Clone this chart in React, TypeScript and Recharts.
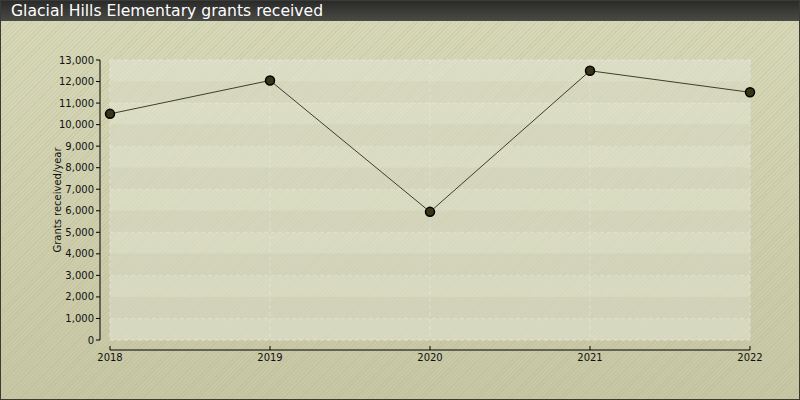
import React from 'react';
import {
  LineChart,
  Line,
  XAxis,
  YAxis,
  CartesianGrid,
  ReferenceArea,
} from 'recharts';

const years = [2018, 2019, 2020, 2021, 2022];
const grants = [10500, 12050, 5950, 12500, 11500];
const yTicks = [0, 1000, 2000, 3000, 4000, 5000, 6000, 7000, 8000, 9000, 10000, 11000, 12000, 13000];

const data = years.map((year, i) => ({ year, grants: grants[i] }));

// alternating horizontal bands, one per 1000
const bands = yTicks.slice(0, -1).map((lo, i) => ({ lo, hi: yTicks[i + 1], light: i % 2 === 0 }));

const fmt = (v: number) => v.toLocaleString('en-US');

const font = '"DejaVu Sans", Verdana, sans-serif';

export default function App() {
  return (
    <div
      style={{
        position: 'absolute',
        left: 0,
        top: 0,
        width: 800,
        height: 400,
        boxSizing: 'border-box',
        border: '1px solid #3a3a36',
        background:
          'repeating-linear-gradient(135deg, rgba(170,172,100,0.2) 0px, rgba(170,172,100,0.2) 1px, rgba(0,0,0,0) 1px, rgba(0,0,0,0) 3px), linear-gradient(#d8d9bb, #c7c7a7)',
        overflow: 'hidden',
        fontFamily: font,
      }}
    >
      <div
        style={{
          position: 'absolute',
          left: 0,
          top: 0,
          width: 800,
          height: 20,
          background: 'linear-gradient(#2a2a28, #4a4a46)',
          color: '#fff',
          fontSize: 15.6,
          lineHeight: '20px',
          paddingLeft: 10,
          boxSizing: 'border-box',
          whiteSpace: 'nowrap',
        }}
      >
        Glacial Hills Elementary grants received
      </div>
      <div style={{ position: 'absolute', left: -1, top: -1 }}>
        <LineChart width={800} height={400} data={data} margin={{ top: 60, right: 50, bottom: 30, left: 4 }}>
          {bands.map((b) => (
            <ReferenceArea
              key={b.lo}
              x1={2018}
              x2={2022}
              y1={b.lo}
              y2={b.hi}
              fill={b.light ? '#e4e6d4' : '#d9dbc6'}
              fillOpacity={0.55}
              stroke="none"
            />
          ))}
          <CartesianGrid stroke="#e8e8e2" strokeDasharray="4 3" strokeOpacity={0.8} />
          <XAxis
            dataKey="year"
            type="number"
            domain={[2018, 2022]}
            ticks={years}
            tick={{ fill: '#111', fontSize: 10, fontFamily: font }}
            tickSize={4}
            tickMargin={10}
            axisLine={{ stroke: '#000', transform: 'translate(0,10)' }}
            tickLine={{ stroke: '#000', transform: 'translate(0,6)' }}
          />
          <YAxis
            domain={[0, 13000]}
            ticks={yTicks}
            tickFormatter={fmt}
            width={106}
            tick={{ fill: '#111', fontSize: 10, fontFamily: font }}
            tickSize={4}
            tickMargin={12}
            axisLine={{ stroke: '#000', transform: 'translate(-10,0)' }}
            tickLine={{ stroke: '#000', transform: 'translate(-10,0)' }}
            label={{
              value: 'Grants received/year',
              angle: -90,
              position: 'center',
              fill: '#111',
              fontSize: 10,
              fontFamily: font,
            }}
          />
          <Line
            dataKey="grants"
            stroke="#3e3e2c"
            strokeWidth={1}
            dot={{ r: 4.5, fill: '#3a3418', stroke: '#000', strokeWidth: 1.5 }}
            isAnimationActive={false}
          />
        </LineChart>
      </div>
    </div>
  );
}
